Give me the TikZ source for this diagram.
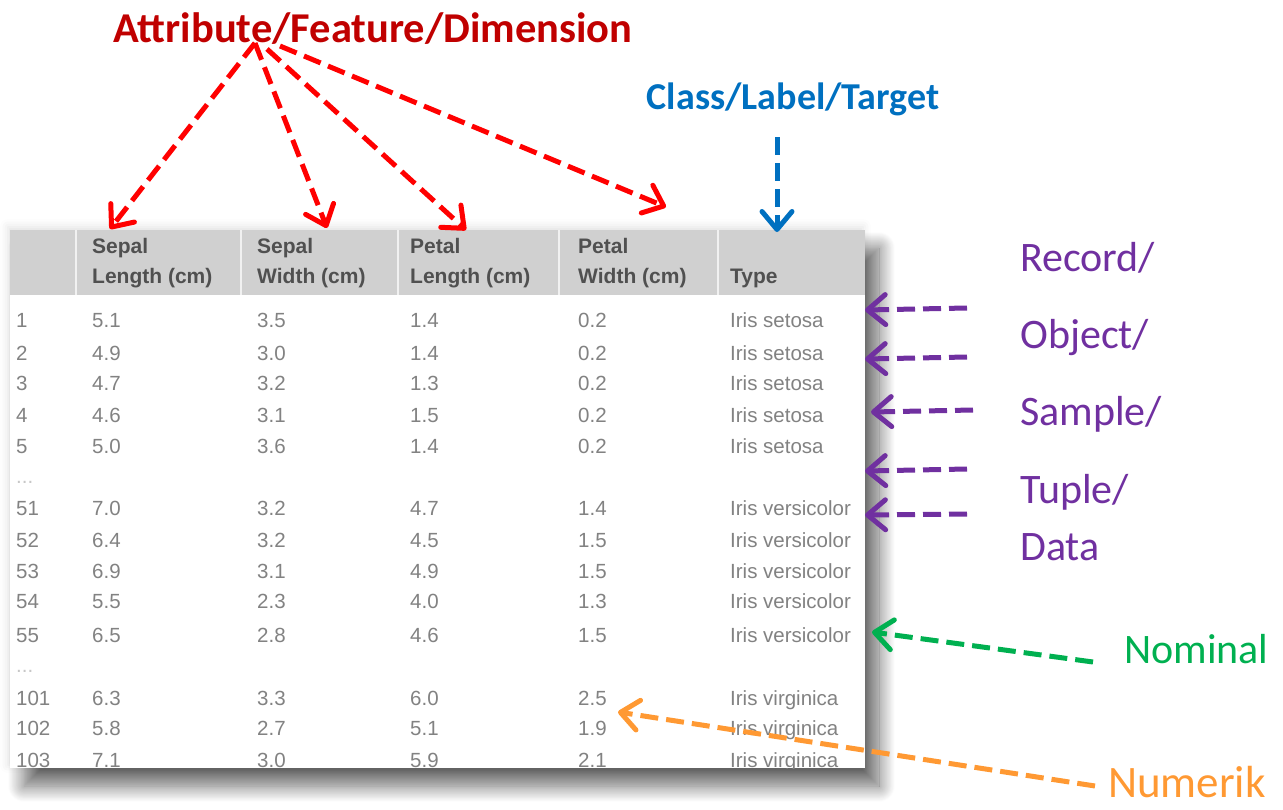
\documentclass[tikz,border=0pt]{standalone}
\usepackage{fontspec}
\setmainfont{Carlito}
\newfontfamily\tabfont{Liberation Sans}
\usetikzlibrary{arrows.meta,shadows.blur}

\definecolor{attrred}{RGB}{192,0,0}
\definecolor{arrowred}{RGB}{255,0,0}
\definecolor{classblue}{RGB}{0,112,192}
\definecolor{recpurple}{RGB}{112,48,160}
\definecolor{nomgreen}{RGB}{0,176,80}
\definecolor{numorange}{RGB}{255,153,51}
\definecolor{headgray}{RGB}{208,208,208}
\definecolor{headtext}{RGB}{80,80,80}
\definecolor{datatext}{RGB}{130,130,130}

\begin{document}
\begin{tikzpicture}[x=1pt,y=-1pt,
  lbl/.style={inner sep=0pt, anchor=base west, font=\fontsize{42}{50}\selectfont},
  hd/.style={inner sep=0pt, anchor=base west, text=headtext, font=\tabfont\bfseries\fontsize{21}{25}\selectfont},
  dat/.style={inner sep=0pt, anchor=base west, text=datatext, font=\tabfont\fontsize{20.5}{24}\selectfont},
  pointer/.style={line width=5pt, dash pattern=on 18pt off 8pt,
    -{Straight Barb[length=18pt,width=30pt,line cap=round,line join=round]}},
]
\useasboundingbox (0,0) rectangle (1283,809);

% table sheet with its soft shadows
\fill[white, blur shadow={shadow xshift=-2pt, shadow yshift=3pt,
  shadow blur radius=8pt, shadow opacity=12}] (10,230) rectangle (865,768);
\fill[white, blur shadow={shadow xshift=14pt, shadow yshift=-18pt,
  shadow blur radius=16pt, shadow blur steps=20, shadow opacity=60}]
  (10,230) rectangle (865,768);

\begin{scope}
  \clip (10,230) rectangle (865,768);
  % header band
  \fill[headgray] (10,230) rectangle (865,295);
  \foreach \x in {76,241,398,559,718}
    \draw[white!70!headgray, line width=2.5pt] (\x,230) -- (\x,295);
  \node[hd] (hslA) at (92,253) {Sepal};
  \node[hd] (hslB) at (92,283) {Length (cm)};
  \node[hd] (hswA) at (257,253) {Sepal};
  \node[hd] (hswB) at (257,283) {Width (cm)};
  \node[hd] (hplA) at (410,253) {Petal};
  \node[hd] (hplB) at (410,283) {Length (cm)};
  \node[hd] (hpwA) at (578,253) {Petal};
  \node[hd] (hpwB) at (578,283) {Width (cm)};
  \node[hd] (htype) at (730,283) {Type};
  % data rows
  \foreach \yy/\i/\a/\b/\c/\d/\t in {
    327/1/5.1/3.5/1.4/0.2/Iris setosa,
    360/2/4.9/3.0/1.4/0.2/Iris setosa,
    390/3/4.7/3.2/1.3/0.2/Iris setosa,
    422/4/4.6/3.1/1.5/0.2/Iris setosa,
    453/5/5.0/3.6/1.4/0.2/Iris setosa,
    515/51/7.0/3.2/4.7/1.4/Iris versicolor,
    547/52/6.4/3.2/4.5/1.5/Iris versicolor,
    578/53/6.9/3.1/4.9/1.5/Iris versicolor,
    608/54/5.5/2.3/4.0/1.3/Iris versicolor,
    642/55/6.5/2.8/4.6/1.5/Iris versicolor,
    705/101/6.3/3.3/6.0/2.5/Iris virginica,
    735/102/5.8/2.7/5.1/1.9/Iris virginica,
    767/103/7.1/3.0/5.9/2.1/Iris virginica}{
    \node[dat] (id\i) at (16,\yy) {\i};
    \node[dat] (sl\i) at (92,\yy) {\a};
    \node[dat] (sw\i) at (257,\yy) {\b};
    \node[dat] (pl\i) at (410,\yy) {\c};
    \node[dat] (pw\i) at (578,\yy) {\d};
    \node[dat] (ty\i) at (730,\yy) {\t};
  }
  \node[dat, text=datatext!45] (gapA) at (16,483) {...};
  \node[dat, text=datatext!45] (gapB) at (16,672) {...};
\end{scope}

% labels
\node[anchor=base, inner sep=0pt, text=attrred,
  font=\bfseries\fontsize{42.5}{50}\selectfont] (attr) at (373,42)
  {Attribute/Feature/Dimension};
\node[anchor=base, inner sep=0pt, text=classblue,
  font=\bfseries\fontsize{38}{44}\selectfont] (cls) at (793,109)
  {Class/Label/Target};
\node[lbl, text=recpurple] (rec) at (1020,271) {Record/};
\node[lbl, text=recpurple] (obj) at (1020,348) {Object/};
\node[lbl, text=recpurple] (smp) at (1020,425) {Sample/};
\node[lbl, text=recpurple] (tup) at (1020,503) {Tuple/};
\node[lbl, text=recpurple] (dta) at (1020,560) {Data};
\node[lbl, text=nomgreen] (nom) at (1124,663) {Nominal};
\node[lbl, text=numorange, text depth=0pt, font=\fontsize{45}{52}\selectfont]
  (num) at (1108,797) {Numerik};

% arrow ends
\coordinate (apexA) at (255,43);
\coordinate (apexB) at (267,49);
\coordinate (apexC) at (280,46);
\coordinate (tipSL) at (110,229);
\coordinate (tipSW) at (327,228);
\coordinate (tipPL) at (466,230);
\coordinate (tipPW) at (666,207);
\coordinate (clsTail) at (777,137);
\coordinate (clsTip) at (777,232);
\coordinate (rTailA) at (967,308);  \coordinate (rTipA) at (865,310);
\coordinate (rTailB) at (967,357);  \coordinate (rTipB) at (865,359);
\coordinate (rTailC) at (973,410);  \coordinate (rTipC) at (871,412);
\coordinate (rTailD) at (967,469);  \coordinate (rTipD) at (865,471);
\coordinate (rTailE) at (967,514);  \coordinate (rTipE) at (865,515);
\coordinate (nomTail) at (1093,662); \coordinate (nomTip) at (872,632);
\coordinate (numTail) at (1095,786); \coordinate (numTip) at (618,712);

% connectors
\draw[pointer, arrowred] (apexA) -- (tipSL);
\draw[pointer, arrowred] (apexA) -- (tipSW);
\draw[pointer, arrowred] (apexB) -- (tipPL);
\draw[pointer, arrowred] (apexC) -- (tipPW);
\draw[pointer, classblue] (clsTail) -- (clsTip);
\foreach \k in {A,B,C,D,E}
  \draw[pointer, recpurple] (rTail\k) -- (rTip\k);
\draw[pointer, nomgreen] (nomTail) -- (nomTip);
\draw[pointer, numorange] (numTail) -- (numTip);
\end{tikzpicture}
\end{document}
